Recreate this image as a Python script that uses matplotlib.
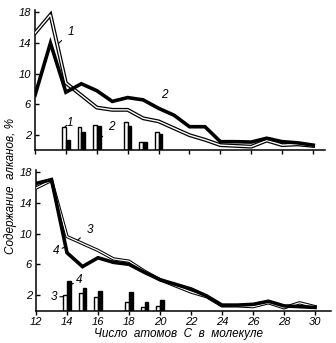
import matplotlib
matplotlib.use("Agg")
import matplotlib.pyplot as plt
import numpy as np

# ---- data ----
carbons = list(range(12, 31))
line1 = [15.3, 17.7, 8.8, 7.2, 5.6, 5.3, 5.3, 4.2, 3.8, 2.9, 2.0, 1.4, 0.7, 0.6, 0.5, 1.3, 0.7, 0.8, 0.6]
line2 = [7.2, 14.0, 7.6, 8.7, 7.8, 6.4, 6.9, 6.6, 5.5, 4.6, 3.1, 3.1, 1.15, 1.15, 1.1, 1.6, 1.15, 1.0, 0.7]
line3 = [15.9, 16.9, 9.6, 8.7, 7.8, 6.7, 6.4, 5.1, 4.0, 3.2, 2.4, 1.8, 0.6, 0.6, 0.5, 1.0, 0.35, 1.0, 0.5]
line4 = [16.5, 17.0, 7.5, 5.7, 6.85, 6.25, 6.0, 4.95, 4.0, 3.4, 2.8, 1.9, 0.7, 0.7, 0.8, 1.2, 0.6, 0.5, 0.4]

bar_pos = [14, 15, 16, 18, 19, 20]
bar1 = [3.0, 3.1, 3.3, 3.7, 1.15, 2.45]
bar2 = [1.35, 2.4, 3.15, 3.2, 1.15, 2.1]
bar3 = [2.0, 2.3, 1.7, 1.15, 0.4, 0.6]
bar4 = [3.8, 2.9, 2.5, 2.35, 1.05, 1.35]

xticks = list(range(12, 31, 2))
yticks = [2, 6, 10, 14, 18]

FONT = "Liberation Sans"
fig = plt.figure(figsize=(3.36, 3.43), dpi=100)
W, H = 336, 343

def make_ax(left, right, y0, ytop_px, per_unit_x, per_unit_y):
    ax = fig.add_axes([left / W, 1 - y0 / H, (right - left) / W, (y0 - ytop_px) / H])
    ax.set_xlim(12, 12 + (right - left) / per_unit_x)
    ax.set_ylim(0, (y0 - ytop_px) / per_unit_y)
    for s in ("top", "right"):
        ax.spines[s].set_visible(False)
    for s in ("left", "bottom"):
        ax.spines[s].set_linewidth(1.1)
    ax.set_xticks(xticks)
    ax.set_yticks(yticks)
    ax.tick_params(axis="x", direction="out", length=3, width=1, pad=2)
    ax.tick_params(axis="y", direction="in", length=3, width=1, pad=3)
    for lab in ax.get_yticklabels():
        lab.set_fontstyle("italic")
        lab.set_fontfamily(FONT)
        lab.set_fontsize(8)
    return ax

def double_line(ax, x, y, outer=2.8, inner=1.0):
    ax.plot(x, y, color="black", lw=outer, solid_joinstyle="miter", zorder=3)
    ax.plot(x, y, color="white", lw=inner, solid_joinstyle="miter", zorder=4)

def thick_line(ax, x, y, lw=2.6):
    ax.plot(x, y, color="black", lw=lw, solid_joinstyle="miter", zorder=5)

def bars(ax, pos, white, black):
    ax.bar(pos, white, width=-0.24, align="edge", color="white", edgecolor="black", linewidth=1.0, zorder=2)
    ax.bar(pos, black, width=0.24, align="edge", color="black", edgecolor="black", linewidth=1.0, zorder=2)

def label(ax, text, xy, xytext):
    ax.annotate(text, xy=xy, xytext=xytext, fontsize=8.5, fontstyle="italic", family=FONT,
                ha="center", va="center",
                arrowprops=dict(arrowstyle="-", lw=0.8, color="black", shrinkA=3, shrinkB=0), zorder=6)

# top panel
ax1 = make_ax(35, 325, 150.5, 10, 15.45, 7.67)
double_line(ax1, carbons, line1)
thick_line(ax1, carbons, line2)
bars(ax1, bar_pos, bar1, bar2)
ax1.set_xticklabels([])
label(ax1, "1", (13.55, 14.0), (14.3, 15.5))
label(ax1, "2", (19.9, 5.55), (20.35, 7.3))
label(ax1, "1", (13.9, 3.0), (14.25, 3.65))
label(ax1, "2", (16.3, 1.7), (16.95, 3.1))

# bottom panel
ax2 = make_ax(36, 331, 310.5, 170, 15.5, 7.7)
double_line(ax2, carbons, line3, outer=2.4, inner=0.9)
thick_line(ax2, carbons, line4)
bars(ax2, bar_pos, bar3, bar4)
ax2.set_xticklabels([str(v) for v in xticks], fontstyle="italic", family=FONT, fontsize=8)
label(ax2, "3", (14.7, 9.15), (15.45, 10.5))
label(ax2, "4", (13.92, 8.3), (13.3, 7.7))
label(ax2, "3", (13.78, 1.8), (13.15, 1.75))
label(ax2, "4", (14.2, 3.3), (14.8, 3.95))

fig.text(11 / W, 1 - 186 / H, "Содержание  алканов, %", rotation=90, ha="center", va="center",
         fontsize=8.5, fontstyle="italic", family=FONT)
fig.text(178 / W, 1 - 334 / H, "Число  атомов  С  в  молекуле", ha="center", va="center",
         fontsize=8.5, fontstyle="italic", family=FONT)

fig.savefig("out.png", dpi=100)
